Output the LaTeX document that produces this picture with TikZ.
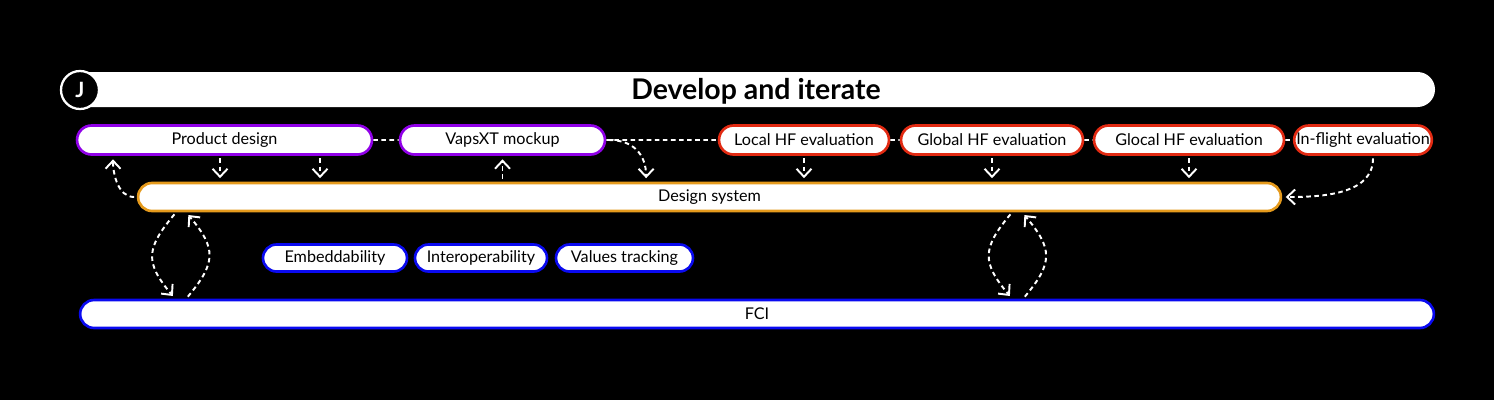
\documentclass[tikz,border=0pt]{standalone}
\usepackage{fontspec}
\setmainfont{Lato}
\usetikzlibrary{arrows.meta,calc,shapes.misc}
\definecolor{prodline}{HTML}{9000E8}
\definecolor{evalline}{HTML}{E22A12}
\definecolor{sysline}{HTML}{E59A1C}
\definecolor{fciline}{HTML}{0A0AF0}
\tikzset{
  pill/.style    = {rounded rectangle,draw,line width=1.5pt,fill=white,text=black,
                    inner sep=0pt,minimum height=0.58cm,font=\fontsize{9.2}{11}\selectfont},
  prod/.style    = {pill,draw=prodline},
  evalb/.style   = {pill,draw=evalline},
  sysb/.style    = {pill,draw=sysline,minimum height=0.56cm},
  fcib/.style    = {pill,draw=fciline,minimum height=0.56cm},
  link/.style    = {draw=white,line width=1.1pt,dash pattern=on 2.6pt off 2pt},
  flowarr/.style = {link,-{Straight Barb[length=1.6mm,width=3mm]},
                    shorten <=1.5pt,shorten >=2pt},
}
\begin{document}
\begin{tikzpicture}[x=0.02cm,y=0.02cm]
  \fill[black] (0,0) rectangle (1494,-400);
  \useasboundingbox (0,0) rectangle (1494,-400);
  % header
  \node[rounded rectangle,fill=white,minimum width=27.72cm,minimum height=0.7cm] (bar) at (748,-89.5) {};
  \node[font=\bfseries\fontsize{16.2}{18}\selectfont,text=black] (title) at (756,-91) {Develop and iterate};
  \node[circle,draw=white,fill=black,line width=1.3pt,minimum size=0.76cm,text=white,
        font=\bfseries\fontsize{12}{12}\selectfont] (jbadge) at (80,-90) {J};
  % top row
  \node[prod,minimum width=5.9cm]   (pd)   at (224.5,-140) {Product design};
  \node[prod,minimum width=4.1cm]   (vx)   at (502.5,-140) {VapsXT mockup};
  \node[evalb,minimum width=3.4cm]  (lhf)  at (804,-140)   {Local HF evaluation};
  \node[evalb,minimum width=3.64cm] (ghf)  at (992,-140)   {Global HF evaluation};
  \node[evalb,minimum width=3.8cm]  (gchf) at (1189,-140)  {Glocal HF evaluation};
  \node[evalb,minimum width=2.72cm] (ifl)  at (1363,-140)  {In-flight evaluation};
  % design system and FCI
  \node[sysb,minimum width=22.86cm] (ds)  at (709.5,-197) {Design system};
  \node[fcib,minimum width=2.88cm,minimum height=0.54cm] (emb) at (335,-258)   {Embeddability};
  \node[fcib,minimum width=2.64cm,minimum height=0.54cm] (iop) at (481,-258)   {Interoperability};
  \node[fcib,minimum width=2.74cm,minimum height=0.54cm] (vt)  at (624.5,-258) {Values tracking};
  \node[fcib,minimum width=27.08cm] (fci) at (757,-314) {FCI};
  % dashed links along the top row
  \draw[link] (pd) -- (vx);
  \draw[link] (vx) -- (lhf);
  \draw[link] (lhf) -- (ghf);
  \draw[link] (ghf) -- (gchf);
  \draw[link] (gchf) -- (ifl);
  % arrows between rows
  \coordinate (pdA) at ($(pd.south west)+(128.5,0)$);
  \coordinate (pdB) at ($(pd.south west)+(228.5,0)$);
  \draw[flowarr] (ds.west) to[out=180,in=-90] ($(pd.south west)+(21.5,0)$);
  \draw[flowarr] (pdA) -- (pdA |- ds.north);
  \draw[flowarr] (pdB) -- (pdB |- ds.north);
  \draw[flowarr] (vx.south |- ds.north) -- (vx.south);
  \draw[flowarr] (vx.east) to[out=0,in=90,looseness=1.2] ($(ds.north west)+(494,0)$);
  \foreach \n in {lhf,ghf,gchf}
    \draw[flowarr] (\n.south) -- (\n.south |- ds.north);
  \draw[flowarr] ($(ifl.south)+(10,0)$) to[out=-90,in=0] (ds.east);
  % loops between design system and FCI
  \foreach \dx/\fx in {24/81,860/918}{
    \draw[flowarr] ($(ds.south west)+(\dx,0)$) to[out=-130,in=130,looseness=1.4]
      ($(fci.north west)+(\fx,0)$);
    \draw[flowarr] ($(fci.north west)+(\fx+11,0)$) to[out=50,in=-50,looseness=1.4]
      ($(ds.south west)+(\dx+10,0)$);
  }
\end{tikzpicture}
\end{document}
